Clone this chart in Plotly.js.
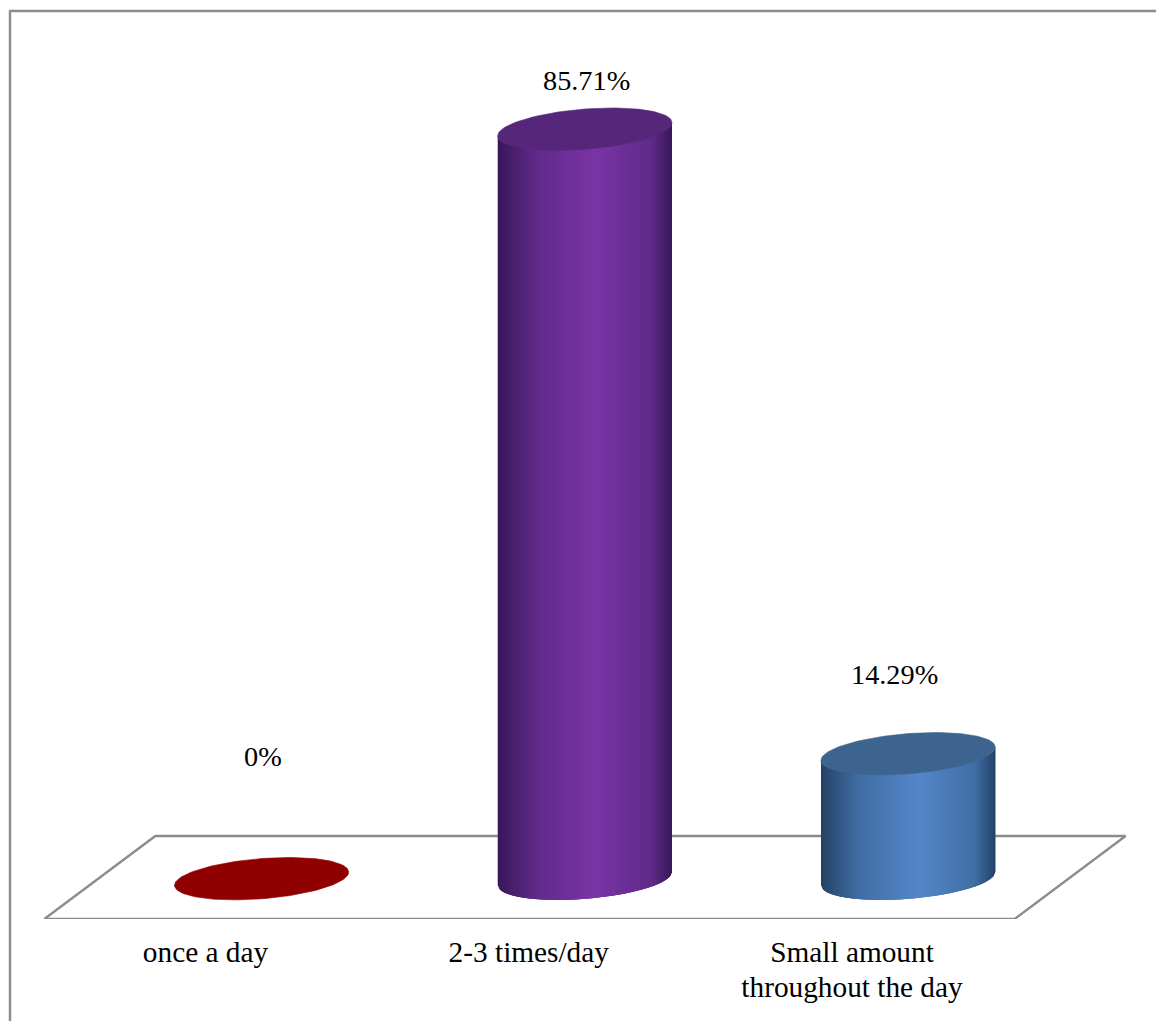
<!DOCTYPE html>
<html>
<head>
<meta charset="utf-8">
<script src="https://cdn.plot.ly/plotly-3.0.1.min.js"></script>
<style>html,body{margin:0;padding:0;background:#fff}</style>
</head>
<body>
<div id="chart" style="width:1156px;height:1021px"></div>
<script>
// Meal frequency shares
const categories = ['once a day', '2-3 times/day', 'Small amount<br>throughout the day'];
const shares = [0, 85.71, 14.29];

// Colours per column: cap, then the side shading from edge to highlight
const capColors = ['#900000', '#55267a', '#3d648f'];
const edgeColors = [[100, 0, 0], [56, 24, 88], [36, 66, 104]];
const shoulderColors = [[130, 0, 0], [96, 42, 138], [64, 110, 164]];
const glowColors = [[144, 0, 0], [122, 52, 166], [84, 134, 202]];

// Where each value label sits above its column, and its sideways shift
const labelLift = [14.0, 5.6, 9.1];
const labelShift = [0.178, 0.18, 0.13];

// Oblique projection of the floor, in axis units
const W = 1156, H = 1021, BOTTOM = 102;
const X_RANGE = [-0.6357, 2.9404];
const Y_RANGE = [-4.61, 100.48];
const DEPTH_X = 0.3433, DEPTH_Y = 9.49;
const CYL_SHIFT = 0.1735;     // column centre relative to its tick
const CYL_HALF = 0.2695;      // half width of a column
const TILT = 0.76, MINOR = 2.3; // ellipse shape: slope and half height
const GREY = '#8c8c8c';

// Offset of the ellipse outline at angle t
const rim = t => ({dx: CYL_HALF * Math.cos(t), dy: TILT * Math.cos(t) + MINOR * Math.sin(t)});

const mix = (a, b, f) => a.map((c, i) => Math.round(c + (b[i] - c) * f));
function sideColor(i, f) {
  // f runs 0..1 from the left edge to the right edge
  let c;
  if (f < 0.22) c = mix(edgeColors[i], shoulderColors[i], f / 0.22);
  else if (f < 0.56) c = mix(shoulderColors[i], glowColors[i], (f - 0.22) / 0.34);
  else if (f < 0.88) c = mix(glowColors[i], shoulderColors[i], (f - 0.56) / 0.32);
  else c = mix(shoulderColors[i], edgeColors[i], (f - 0.88) / 0.12);
  return `rgb(${c.join(',')})`;
}

const traces = [];

// Floor parallelogram
traces.push({
  type: 'scatter', mode: 'lines', hoverinfo: 'skip', showlegend: false, cliponaxis: false,
  x: [-0.4985, 2.503, 2.503 + DEPTH_X, -0.4985 + DEPTH_X, -0.4985],
  y: [Y_RANGE[0], Y_RANGE[0], Y_RANGE[0] + DEPTH_Y, Y_RANGE[0] + DEPTH_Y, Y_RANGE[0]],
  line: {color: GREY, width: 2.4},
  fill: 'toself', fillcolor: '#ffffff'
});

// Column bodies
traces.push({
  type: 'bar', x: [0, 1, 2], y: shares, width: 0.5, offset: CYL_SHIFT - 0.25,
  marker: {color: glowColors.map(c => `rgb(${c.join(',')})`), line: {width: 0}},
  hoverinfo: 'skip', showlegend: false
});

// Front rim sample at fraction f of the column width, left to right
const frontRim = f => {
  const u = Math.min(1, Math.max(0, f));
  return rim(2 * Math.PI - Math.acos(2 * u - 1));
};

// Rounded side of each column: strips painted left to right, each one
// running a little under the next so no seams show between them
const STRIPS = 87;
shares.forEach((v, i) => {
  if (v <= 0) return;
  const cx = i + CYL_SHIFT;
  for (let s = 0; s < STRIPS; s++) {
    const fs = [s, s + 1, s + 2, s + 3].map(k => Math.min(k, STRIPS) / STRIPS);
    const edge = fs.map(frontRim);
    const xs = fs.map(f => cx - CYL_HALF + 2 * CYL_HALF * f);
    const color = sideColor(i, (s + 0.5) / STRIPS);
    traces.push({
      type: 'scatter', mode: 'lines', hoverinfo: 'skip', showlegend: false,
      x: [...xs, ...xs.slice().reverse(), xs[0]],
      y: [...edge.map(e => v + e.dy), ...edge.slice().reverse().map(e => e.dy), v + edge[0].dy],
      fill: 'toself', fillcolor: color, line: {width: 0}
    });
  }
});

// Flat caps
const ANGLES = Array.from({length: 121}, (_, k) => k / 120 * 2 * Math.PI);
shares.forEach((v, i) => {
  traces.push({
    type: 'scatter', mode: 'lines', hoverinfo: 'skip', showlegend: false,
    x: ANGLES.map(t => i + CYL_SHIFT + rim(t).dx),
    y: ANGLES.map(t => v + rim(t).dy),
    fill: 'toself', fillcolor: capColors[i], line: {color: capColors[i], width: 0.6}
  });
});

// Outer frame: top and left rules only
const paperBottom = -BOTTOM / (H - BOTTOM);
const frame = {
  type: 'path', xref: 'paper', yref: 'paper', layer: 'below',
  path: `M ${10 / W} ${paperBottom} L ${10 / W} ${1 - 11 / (H - BOTTOM)} L 1 ${1 - 11 / (H - BOTTOM)}`,
  line: {color: GREY, width: 2.4}
};

const layout = {
  width: W, height: H,
  margin: {l: 0, r: 0, t: 0, b: BOTTOM, pad: 0},
  paper_bgcolor: '#ffffff', plot_bgcolor: '#ffffff',
  showlegend: false,
  barmode: 'overlay',
  font: {family: '"Liberation Serif", serif', color: '#000000'},
  xaxis: {
    range: X_RANGE, fixedrange: true, zeroline: false, showgrid: false, showline: false,
    tickmode: 'array', tickvals: [0, 1, 2], ticktext: categories,
    ticks: '', ticklabelstandoff: 13,
    tickfont: {family: '"Liberation Serif", serif', size: 29.3, color: '#000000'},
    tickangle: 0
  },
  yaxis: {range: Y_RANGE, fixedrange: true, visible: false},
  shapes: [frame],
  annotations: shares.map((v, i) => ({
    x: i + labelShift[i], y: v + labelLift[i], xref: 'x', yref: 'y',
    text: v + '%', showarrow: false, xanchor: 'center', yanchor: 'middle',
    font: {family: '"Liberation Serif", serif', size: 28.3, color: '#000000'}
  }))
};

Plotly.newPlot('chart', traces, layout, {displayModeBar: false, staticPlot: true}).then(() => {
  // Tighter leading for two-line category labels
  document.querySelectorAll('.xtick tspan.line').forEach(line => {
    if (parseFloat(line.getAttribute('dy')) > 0) line.setAttribute('dy', '1.17em');
  });
});
</script>
</body>
</html>
